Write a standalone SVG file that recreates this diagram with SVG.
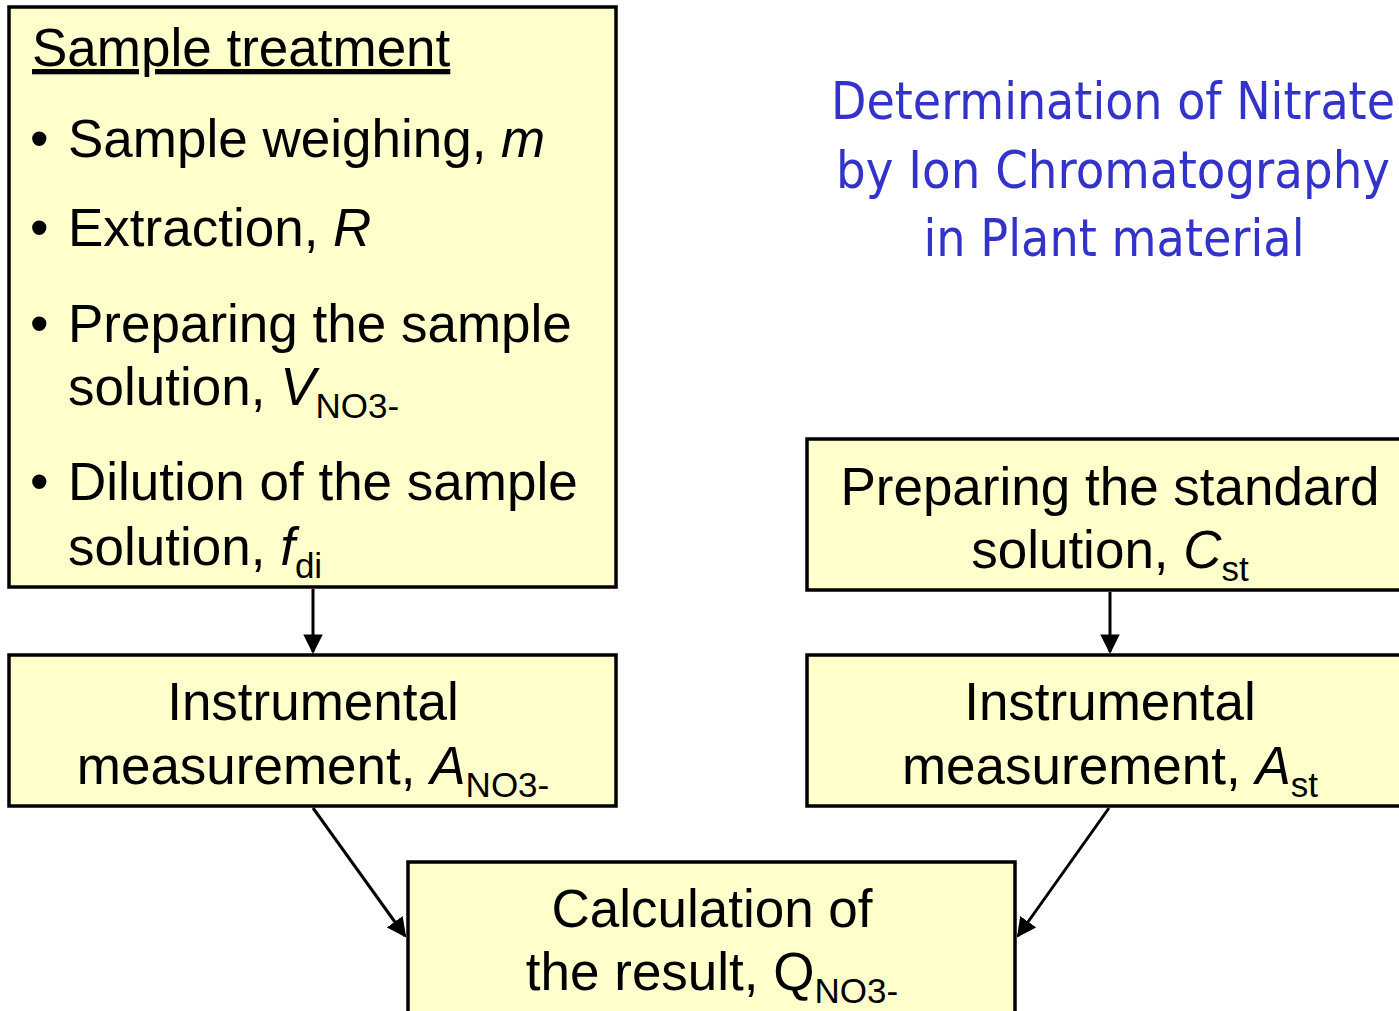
<svg xmlns="http://www.w3.org/2000/svg" width="1399" height="1011" viewBox="0 0 1399 1011">
<defs>
<style>
.box{fill:#FFFFCC;stroke:#000;stroke-width:3.5}
.t{font-family:"Liberation Sans",Arial,sans-serif;font-size:53px;fill:#000}
.c{text-anchor:middle}
.i{font-style:italic}
.sub{font-size:35px}
.title{font-family:"DejaVu Sans",Verdana,sans-serif;font-size:52px;fill:#3333CC;text-anchor:middle}
.conn{stroke:#000;stroke-width:3;fill:none;marker-end:url(#arr)}
</style>
<marker id="arr" viewBox="0 0 10 10" refX="9" refY="5" markerWidth="6.5" markerHeight="6.5" markerUnits="strokeWidth" orient="auto">
<path d="M0,0 L10,5 L0,10 Z" fill="#000"/>
</marker>
</defs>
<rect width="1399" height="1011" fill="#fff"/>

<g id="title">
<text class="title" x="1113" y="119" textLength="564" lengthAdjust="spacingAndGlyphs">Determination of Nitrate</text>
<text class="title" x="1113" y="188" textLength="554" lengthAdjust="spacingAndGlyphs">by Ion Chromatography</text>
<text class="title" x="1114" y="256" textLength="381" lengthAdjust="spacingAndGlyphs">in Plant material</text>
</g>

<g id="connectors">
<line class="conn" x1="313" y1="589" x2="313" y2="652"/>
<line class="conn" x1="1110" y1="592" x2="1110" y2="652"/>
<line class="conn" x1="313" y1="808" x2="405" y2="936"/>
<line class="conn" x1="1109" y1="808" x2="1018" y2="936"/>
</g>

<g id="sample-treatment">
<rect class="box" x="9" y="7" width="607" height="580"/>
<text class="t" x="32" y="66" text-decoration="underline">Sample treatment</text>
<text class="t" x="30" y="157">•</text>
<text class="t" x="68" y="157">Sample weighing, <tspan class="i">m</tspan></text>
<text class="t" x="30" y="246">•</text>
<text class="t" x="68" y="246">Extraction, <tspan class="i">R</tspan></text>
<text class="t" x="30" y="342">•</text>
<text class="t" x="68" y="342">Preparing the sample</text>
<text class="t" x="68" y="405">solution, <tspan class="i">V</tspan><tspan class="sub" dy="13">NO3-</tspan></text>
<text class="t" x="30" y="500">•</text>
<text class="t" x="68" y="500">Dilution of the sample</text>
<text class="t" x="68" y="565">solution, <tspan class="i">f</tspan><tspan class="sub" dy="13">di</tspan></text>
</g>

<g id="instrumental-sample">
<rect class="box" x="9" y="655" width="607" height="151"/>
<text class="t c" x="313" y="720">Instrumental</text>
<text class="t c" x="313" y="784">measurement, <tspan class="i">A</tspan><tspan class="sub" dy="13">NO3-</tspan></text>
</g>

<g id="standard-solution">
<rect class="box" x="807" y="439" width="610" height="151"/>
<text class="t c" x="1110" y="505">Preparing the standard</text>
<text class="t c" x="1110" y="568">solution, <tspan class="i">C</tspan><tspan class="sub" dy="13">st</tspan></text>
</g>

<g id="instrumental-standard">
<rect class="box" x="807" y="655" width="610" height="151"/>
<text class="t c" x="1110" y="720">Instrumental</text>
<text class="t c" x="1110" y="784">measurement, <tspan class="i">A</tspan><tspan class="sub" dy="13">st</tspan></text>
</g>

<g id="calculation">
<rect class="box" x="408" y="862" width="607" height="170"/>
<text class="t c" x="712" y="927">Calculation of</text>
<text class="t c" x="712" y="990">the result, Q<tspan class="sub" dy="13">NO3-</tspan></text>
</g>
</svg>
